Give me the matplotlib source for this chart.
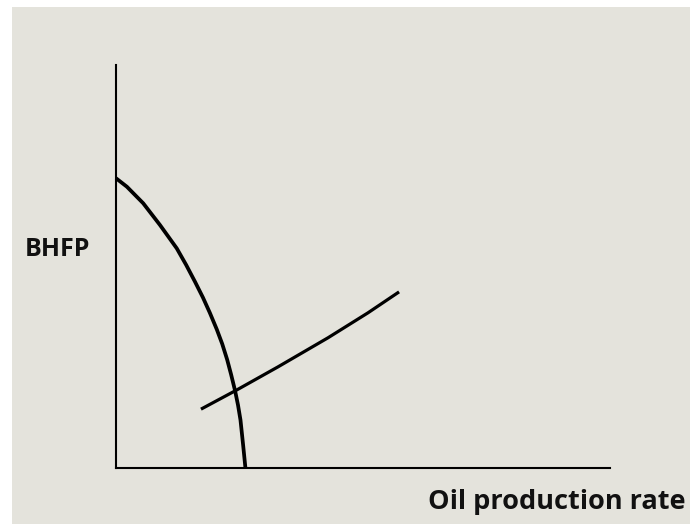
import matplotlib
matplotlib.use("Agg")
import matplotlib.pyplot as plt
from matplotlib.patches import Rectangle

# IPR curve (inflow performance)
ipr_rate = [0.0, 2.2, 5.5, 8.9, 12.3, 14.2, 16.0, 17.6, 19.0, 20.4,
            21.5, 22.5, 23.3, 24.1, 24.7, 25.2, 25.75, 26.2]
ipr_bhfp = [71.9, 69.8, 65.7, 60.3, 54.5, 50.4, 46.2, 42.3, 38.5, 34.4,
            30.8, 26.9, 23.2, 19.2, 15.6, 11.9, 5.5, 0.0]

# TPR curve (tubing performance)
tpr_rate = [17.2, 24.5, 32.8, 42.9, 51.0, 57.3]
tpr_bhfp = [14.6, 19.4, 25.1, 32.3, 38.5, 43.7]

ylabel = "BHFP"
xlabel = "Oil production rate"

W, H = 690, 524
bg = "#e4e3dc"
fig = plt.figure(figsize=(W / 100, H / 100), dpi=100, facecolor="white")
fig.patches.append(Rectangle((12 / W, 0), (W - 12) / W, (H - 7) / H,
                             transform=fig.transFigure, facecolor=bg,
                             edgecolor="none", zorder=-10))

x0, x1 = 116, 610
y0, y1 = 468, 65
ax = fig.add_axes([x0 / W, (H - y0) / H, (x1 - x0) / W, (y0 - y1) / H])
ax.set_zorder(1)
ax.set_facecolor("none")
ax.set_xlim(0, 100)
ax.set_ylim(0, 100)
for s in ["top", "right"]:
    ax.spines[s].set_visible(False)
for s in ["left", "bottom"]:
    ax.spines[s].set_linewidth(1.5)
    ax.spines[s].set_color("black")
ax.set_xticks([])
ax.set_yticks([])

ax.plot(ipr_rate, ipr_bhfp, color="black", lw=2.7, solid_capstyle="butt",
        solid_joinstyle="round", clip_on=False)
ax.plot(tpr_rate, tpr_bhfp, color="black", lw=2.3, solid_capstyle="butt",
        solid_joinstyle="round", clip_on=False)

fig.text(25 / W, 1 - 256 / H, ylabel, fontsize=18, fontweight="bold",
         family="Open Sans", va="baseline", ha="left", color="#111111", zorder=2)
fig.text(685 / W, 1 - 509 / H, xlabel, fontsize=19.5, fontweight="bold",
         family="Open Sans", va="baseline", ha="right", color="#111111", zorder=2)

fig.savefig("out.png", dpi=100, facecolor="white")
